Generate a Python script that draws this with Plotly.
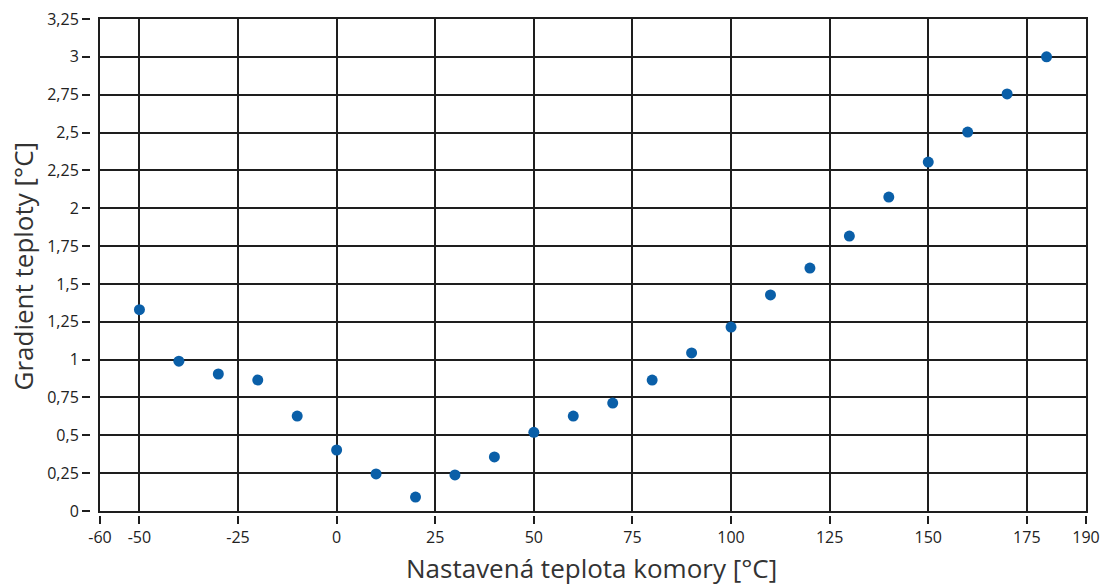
import plotly.graph_objects as go

temps = [-50, -40, -30, -20, -10, 0, 10, 20, 30, 40, 50, 60, 70, 80, 90, 100, 110, 120, 130, 140, 150, 160, 170, 180]
gradient = [1.33, 0.99, 0.905, 0.865, 0.627, 0.403, 0.245, 0.092, 0.238, 0.357, 0.52, 0.627, 0.713, 0.865,
            1.044, 1.215, 1.427, 1.605, 1.816, 2.074, 2.305, 2.503, 2.755, 3.0]

x_ticks = [-60, -50, -25, 0, 25, 50, 75, 100, 125, 150, 175, 190]
x_labels = [str(v) for v in x_ticks]
y_ticks = [0, 0.25, 0.5, 0.75, 1, 1.25, 1.5, 1.75, 2, 2.25, 2.5, 2.75, 3, 3.25]
y_labels = ["0", "0,25", "0,5", "0,75", "1", "1,25", "1,5", "1,75", "2", "2,25", "2,5", "2,75", "3", "3,25"]

x_title = "Nastavená teplota komory [°C]"
y_title = "Gradient teploty [°C]"

FONT = "Open Sans, Noto Sans, sans-serif"
LINE = "#1e1e1e"

# layout geometry (pixels)
W, H = 1100, 585
L, R, T, B = 90, 14, 19, 70
gap_x = 10   # gap between y tick marks and plot frame
gap_y = 4    # gap between x tick marks and plot frame
pw = W - L - R
ph = H - T - B
x_dom0 = gap_x / pw
y_dom0 = gap_y / ph

fig = go.Figure()
fig.add_trace(go.Scatter(
    x=temps, y=gradient, mode="markers",
    marker=dict(color="#0a5fa8", size=11, line=dict(width=0)),
    showlegend=False,
))

tickfont = dict(family=FONT, size=16, color="#222")

fig.update_layout(
    width=W, height=H,
    margin=dict(l=L, r=R, t=T, b=B, autoexpand=False),
    paper_bgcolor="white", plot_bgcolor="white",
    xaxis=dict(
        domain=[x_dom0, 1], range=[-60, 190], automargin=False,
        tickvals=x_ticks[1:-1], showticklabels=False, ticks="",
        showgrid=True, gridcolor=LINE, gridwidth=2,
        showline=True, linecolor=LINE, linewidth=2, mirror=True,
        zeroline=False,
    ),
    yaxis=dict(
        domain=[y_dom0, 1], range=[0, 3.25], automargin=False,
        tickvals=y_ticks, showticklabels=False, ticks="",
        showgrid=True, gridcolor=LINE, gridwidth=2,
        showline=True, linecolor=LINE, linewidth=2, mirror=True,
        zeroline=False,
    ),
    xaxis2=dict(
        overlaying="x", anchor="free", position=0, side="bottom",
        range=[-60, 190], tickvals=x_ticks, ticktext=x_labels, automargin=False,
        ticks="outside", ticklen=8, tickwidth=1.5, tickcolor=LINE,
        showgrid=False, showline=False, zeroline=False,
        tickfont=tickfont,
    ),
    yaxis2=dict(
        overlaying="y", anchor="free", position=0, side="left",
        range=[0, 3.25], tickvals=y_ticks, ticktext=y_labels, automargin=False,
        ticks="outside", ticklen=8, tickwidth=1.5, tickcolor=LINE,
        showgrid=False, showline=False, zeroline=False,
        tickfont=tickfont,
    ),
)

# ghost traces so overlay axes are drawn
fig.add_trace(go.Scatter(x=[None], y=[None], xaxis="x2", yaxis="y", showlegend=False, hoverinfo="skip"))
fig.add_trace(go.Scatter(x=[None], y=[None], xaxis="x", yaxis="y2", showlegend=False, hoverinfo="skip"))

fig.add_annotation(
    text=x_title, xref="paper", yref="paper",
    x=(591 - L) / pw, y=(H - B - 568) / ph,
    xanchor="center", yanchor="middle", showarrow=False,
    font=dict(family=FONT, size=26, color="#333"),
)
fig.add_annotation(
    text=y_title, xref="paper", yref="paper",
    x=(22 - L) / pw, y=(H - B - 266.5) / ph,
    xanchor="center", yanchor="middle", textangle=-90, showarrow=False,
    font=dict(family=FONT, size=26, color="#333"),
)

fig.write_html("out.html", config={"displayModeBar": False},
               post_script="document.body.style.margin='0';")
